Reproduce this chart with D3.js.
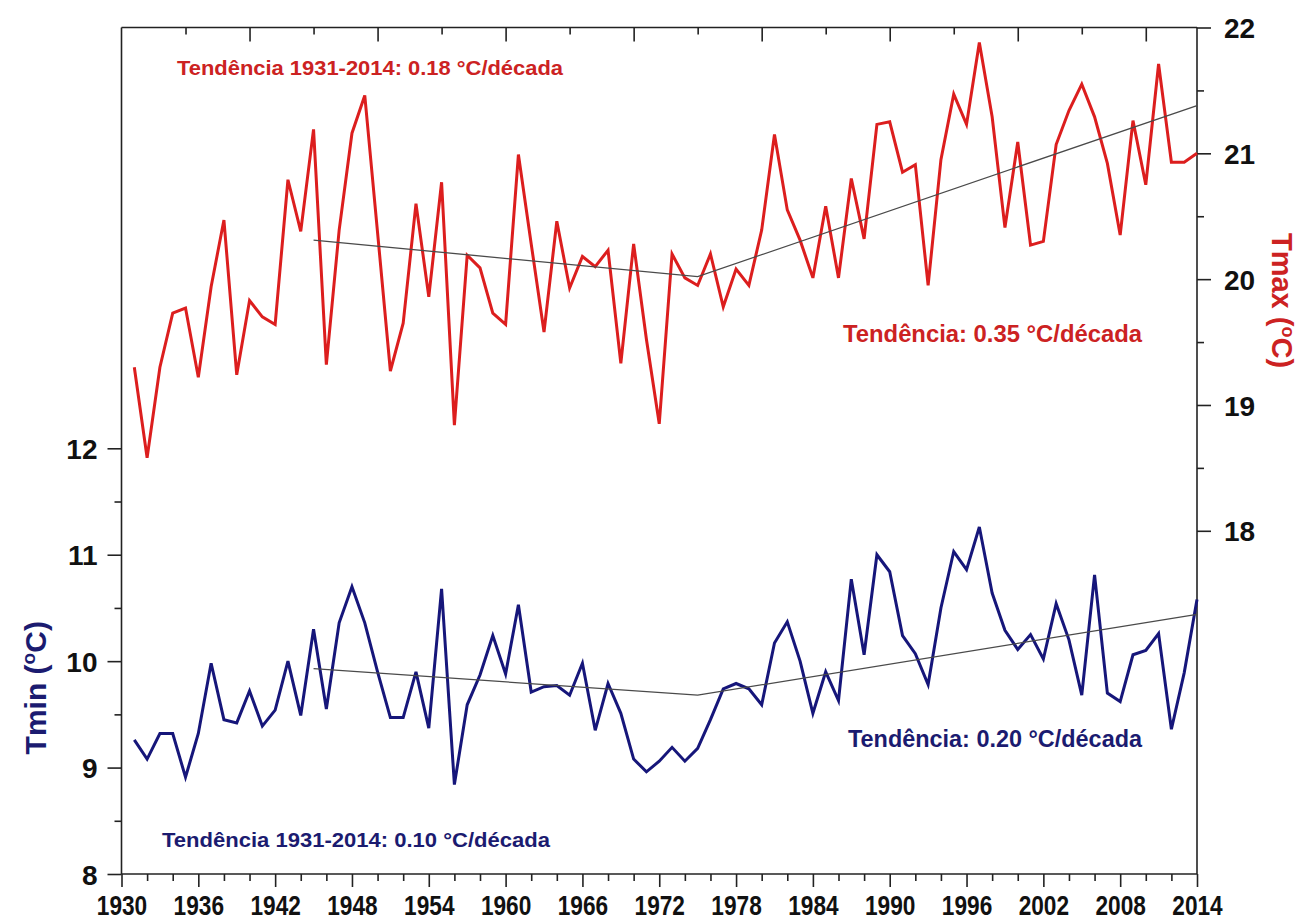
<!DOCTYPE html>
<html>
<head>
<meta charset="utf-8">
<script src="https://cdn.jsdelivr.net/npm/d3@7"></script>
<style>
  html, body { margin: 0; padding: 0; background: #fff; }
  svg { display: block; }
  text { font-family: "Liberation Sans", Arial, sans-serif; }
</style>
</head>
<body>
<svg id="chart" width="1304" height="920"></svg>
<script>
// ---------------- data ----------------
const years = [1931,1932,1933,1934,1935,1936,1937,1938,1939,1940,
  1941,1942,1943,1944,1945,1946,1947,1948,1949,1950,
  1951,1952,1953,1954,1955,1956,1957,1958,1959,1960,
  1961,1962,1963,1964,1965,1966,1967,1968,1969,1970,
  1971,1972,1973,1974,1975,1976,1977,1978,1979,1980,
  1981,1982,1983,1984,1985,1986,1987,1988,1989,1990,
  1991,1992,1993,1994,1995,1996,1997,1998,1999,2000,
  2001,2002,2003,2004,2005,2006,2007,2008,2009,2010,
  2011,2012,2013,2014];

const tmax = [19.30,18.58,19.30,19.73,19.77,19.22,19.94,20.47,19.24,19.83,
  19.70,19.64,20.79,20.38,21.19,19.32,20.39,21.16,21.46,20.37,
  19.27,19.65,20.60,19.86,20.77,18.84,20.19,20.09,19.73,19.64,
  20.99,20.28,19.58,20.46,19.93,20.18,20.10,20.23,19.33,20.28,
  19.52,18.85,20.20,20.01,19.95,20.20,19.78,20.08,19.95,20.39,
  21.15,20.55,20.31,20.01,20.58,20.01,20.80,20.32,21.23,21.25,
  20.85,20.91,19.95,20.95,21.47,21.23,21.88,21.29,20.41,21.09,
  20.27,20.30,21.07,21.34,21.55,21.29,20.92,20.35,21.26,20.75,
  21.71,20.93,20.93,21.00];

const tmin = [9.26,9.08,9.32,9.32,8.91,9.32,9.98,9.45,9.42,9.72,
  9.39,9.54,10.00,9.49,10.30,9.55,10.36,10.70,10.36,9.90,
  9.47,9.47,9.90,9.37,10.68,8.84,9.59,9.87,10.24,9.88,
  10.53,9.71,9.76,9.77,9.68,9.98,9.35,9.79,9.51,9.08,
  8.96,9.06,9.19,9.06,9.18,9.45,9.74,9.79,9.74,9.59,
  10.17,10.37,10.00,9.51,9.90,9.63,10.77,10.06,11.00,10.84,
  10.24,10.07,9.78,10.50,11.03,10.86,11.26,10.64,10.29,10.11,
  10.25,10.02,10.54,10.20,9.68,10.81,9.70,9.62,10.06,10.10,
  10.26,9.36,9.89,10.58];

// trend lines (segmented fits drawn in the figure)
const trendYears = [1945, 1975, 2014];
const tmaxTrend = [20.31, 20.02, 21.38];
const tminTrend = [9.93, 9.68, 10.44];

// ticks
const xMajorTicks = [1930,1936,1942,1948,1954,1960,1966,1972,1978,1984,1990,1996,2002,2008,2014];
const xMinorTicks = [1932,1934,1938,1940,1944,1946,1950,1952,1956,1958,1962,1964,1968,1970,1974,1976,
  1980,1982,1986,1988,1992,1994,1998,2000,2004,2006,2010,2012];
const topMajorTicks = [1940,1950,1960,1970,1980,1990,2000,2010];
const topMinorTicks = [1935,1945,1955,1965,1975,1985,1995,2005];
const leftMajorTicks = [8,9,10,11,12];
const leftMinorTicks = [8.5,9.5,10.5,11.5];
const rightMajorTicks = [18,19,20,21,22];
const rightMinorTicks = [18.5,19.5,20.5,21.5];

const annotations = [
  {text: "Tendência 1931-2014: 0.18 °C/década", series: "max"},
  {text: "Tendência: 0.35 °C/década", series: "max"},
  {text: "Tendência: 0.20 °C/década", series: "min"},
  {text: "Tendência 1931-2014: 0.10 °C/década", series: "min"}
];

// ---------------- drawing ----------------
const RED_LINE = "#dc1e1e", RED_TEXT = "#cc2222";
const BLUE_LINE = "#16167a", BLUE_TEXT = "#1b1b70";
const AXIS = "#222";

const svg = d3.select("#chart");
svg.append("rect").attr("width", 1304).attr("height", 920).attr("fill", "#fff");

const x = d3.scaleLinear().domain([1930, 2014]).range([121.5, 1197]);
const yL = d3.scaleLinear().domain([8, 12]).range([874, 448.3]);
const yR = d3.scaleLinear().domain([18, 22]).range([530.8, 27.5]);

const xL = x.range()[0], xR = x.range()[1];
const yTop = yR(22), yBot = yL(8);

// frame
const frame = svg.append("g").attr("stroke", AXIS).attr("stroke-width", 1.6).attr("fill", "none");
frame.append("line").attr("x1", xL).attr("x2", xL).attr("y1", yTop).attr("y2", yBot);
frame.append("line").attr("x1", xR).attr("x2", xR).attr("y1", yTop).attr("y2", yBot);
frame.append("line").attr("x1", xL).attr("x2", xR).attr("y1", yTop).attr("y2", yTop);
frame.append("line").attr("x1", xL).attr("x2", xR).attr("y1", yBot).attr("y2", yBot);

function styleAxis(g) {
  g.select(".domain").remove();
  g.selectAll(".tick line").attr("stroke", AXIS).attr("stroke-width", 1.6);
}

// bottom axis
const gb = svg.append("g").attr("transform", `translate(0,${yBot})`);
gb.call(d3.axisBottom(x).tickValues(xMinorTicks).tickSize(7).tickFormat(""));
styleAxis(gb);
const gb2 = svg.append("g").attr("transform", `translate(0,${yBot})`);
gb2.call(d3.axisBottom(x).tickValues(xMajorTicks).tickSize(13).tickFormat(d3.format("d")));
styleAxis(gb2);
gb2.selectAll(".tick text")
  .attr("y", 41).attr("dy", 0)
  .attr("transform", "scale(0.84,1)")
  .attr("fill", "#111")
  .style("font-size", "27px")
  .style("font-weight", "bold")
  .style("font-family", "'Liberation Sans', Arial, sans-serif");

// top axis (ticks only, pointing inside)
const gt = svg.append("g").attr("transform", `translate(0,${yTop})`);
gt.call(d3.axisBottom(x).tickValues(topMinorTicks).tickSize(7).tickFormat(""));
styleAxis(gt);
const gt2 = svg.append("g").attr("transform", `translate(0,${yTop})`);
gt2.call(d3.axisBottom(x).tickValues(topMajorTicks).tickSize(14).tickFormat(""));
styleAxis(gt2);

// left axis
const gl = svg.append("g").attr("transform", `translate(${xL},0)`);
gl.call(d3.axisLeft(yL).tickValues(leftMinorTicks).tickSize(7).tickFormat(""));
styleAxis(gl);
const gl2 = svg.append("g").attr("transform", `translate(${xL},0)`);
gl2.call(d3.axisLeft(yL).tickValues(leftMajorTicks).tickSize(14).tickPadding(10).tickFormat(d3.format("d")));
styleAxis(gl2);
gl2.selectAll(".tick text")
  .attr("dy", "0.36em").attr("fill", "#111")
  .style("font-size", "28px").style("font-weight", "bold");

// right axis
const gr = svg.append("g").attr("transform", `translate(${xR},0)`);
gr.call(d3.axisRight(yR).tickValues(rightMinorTicks).tickSize(7).tickFormat(""));
styleAxis(gr);
const gr2 = svg.append("g").attr("transform", `translate(${xR},0)`);
gr2.call(d3.axisRight(yR).tickValues(rightMajorTicks).tickSize(14).tickPadding(13).tickFormat(d3.format("d")));
styleAxis(gr2);
gr2.selectAll(".tick text")
  .attr("dy", "0.36em").attr("fill", "#111")
  .style("font-size", "28px").style("font-weight", "bold");

// axis titles
const lt = svg.append("text")
  .attr("transform", `translate(46,${(yL(9.75))}) rotate(-90)`)
  .attr("text-anchor", "middle")
  .attr("fill", BLUE_TEXT)
  .style("font-size", "30px").style("font-weight", "bold");
lt.append("tspan").text("Tmin (");
lt.append("tspan").attr("dy", -11).style("font-size", "19px").text("o");
lt.append("tspan").attr("dy", 11).text("C)");

const rt = svg.append("text")
  .attr("transform", `translate(1272,${yR(19.83)}) rotate(90)`)
  .attr("text-anchor", "middle")
  .attr("fill", RED_TEXT)
  .style("font-size", "29px").style("font-weight", "bold");
rt.append("tspan").text("Tmax (");
rt.append("tspan").attr("dy", -10).style("font-size", "18px").text("o");
rt.append("tspan").attr("dy", 10).text("C)");

// series lines
const lineMax = d3.line().x((d, i) => x(years[i])).y(d => yR(d));
const lineMin = d3.line().x((d, i) => x(years[i])).y(d => yL(d));
const trMax = d3.line().x((d, i) => x(trendYears[i])).y(d => yR(d));
const trMin = d3.line().x((d, i) => x(trendYears[i])).y(d => yL(d));

svg.append("path").datum(tmax).attr("d", lineMax)
  .attr("fill", "none").attr("stroke", RED_LINE).attr("stroke-width", 3).attr("stroke-linejoin", "miter");
svg.append("path").datum(tmin).attr("d", lineMin)
  .attr("fill", "none").attr("stroke", BLUE_LINE).attr("stroke-width", 3).attr("stroke-linejoin", "miter");

svg.append("path").datum(tmaxTrend).attr("d", trMax)
  .attr("fill", "none").attr("stroke", "#4a4a4a").attr("stroke-width", 1.3);
svg.append("path").datum(tminTrend).attr("d", trMin)
  .attr("fill", "none").attr("stroke", "#4a4a4a").attr("stroke-width", 1.3);

// annotations
const annPos = [
  {x: 177, y: 75, size: 21, len: 386},
  {x: 843, y: 342, size: 23.5, len: 299},
  {x: 848, y: 747, size: 23.5, len: 294},
  {x: 162, y: 847, size: 21, len: 388}
];
annotations.forEach((a, i) => {
  const p = annPos[i];
  svg.append("text")
    .attr("x", p.x).attr("y", p.y)
    .attr("fill", a.series === "max" ? RED_TEXT : BLUE_TEXT)
    .attr("textLength", p.len).attr("lengthAdjust", "spacingAndGlyphs")
    .style("font-size", p.size + "px").style("font-weight", "bold")
    .text(a.text);
});
</script>
</body>
</html>
